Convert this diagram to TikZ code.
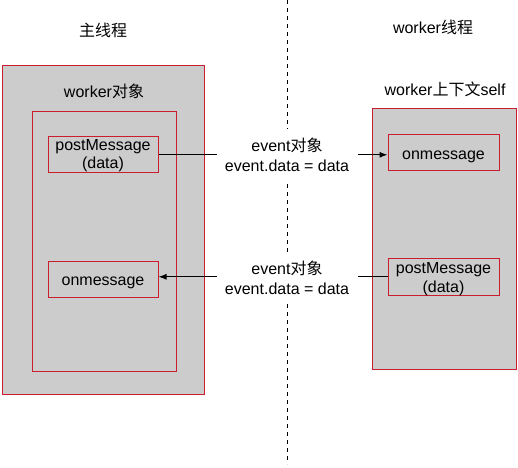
\documentclass[tikz,border=0pt]{standalone}
\usepackage{fontspec}
\setmainfont{Liberation Sans}
\newfontfamily\cjk{Noto Sans CJK SC}
\usetikzlibrary{arrows.meta}
\definecolor{boxred}{RGB}{200,30,45}
\definecolor{boxgray}{RGB}{204,204,204}
\begin{document}
\begin{tikzpicture}[x=1pt,y=-1pt,
  every node/.style={font=\fontsize{16}{20}\selectfont, inner sep=0pt},
  panel/.style={draw=boxred, fill=boxgray, line width=1pt},
  method/.style={draw=boxred, fill=boxgray, line width=1pt},
  mtext/.style={align=center, font=\fontsize{16}{18.5}\selectfont},
  caption/.style={fill=white, align=center, minimum width=141pt, minimum height=52pt},
  conn/.style={draw=black, line width=1pt, -{Latex[length=8pt,width=6pt]}},
  divider/.style={draw=black, line width=1pt, dash pattern=on 4pt off 4pt}]
\useasboundingbox (0,0) rectangle (518,467);
% divider
\coordinate (dtop) at (287,0);
\coordinate (dbot) at (287,464);
\draw[divider] (dtop) -- (dbot);
% titles
\node (tmain) at (103,30) {{\cjk 主线程}};
\node (twork) at (433,27) {worker{\cjk 线程}};
% left panels
\node[panel, minimum width=202pt, minimum height=329pt] (lout) at (103,229.5) {};
\node (lobj) at (104,91.2) {worker{\cjk 对象}};
\node[panel, minimum width=144pt, minimum height=260pt] (lin) at (104,241) {};
\node[method, minimum width=110pt, minimum height=36pt] (pmL) at (103,154.8) {};
\node[mtext] (pmLt) at (103,155.4) {postMessage\\(data)};
\node[method, minimum width=110pt, minimum height=36pt] (omL) at (103,279) {};
\node[anchor=base] (omLt) at (103,285) {onmessage};
% right panel
\node (rctx) at (445,89.5) {worker{\cjk 上下文}self};
\node[panel, minimum width=144pt, minimum height=261pt] (rout) at (444,238.5) {};
\node[method, minimum width=111pt, minimum height=36pt] (omR) at (443.5,152.5) {};
\node[anchor=base] (omRt) at (443.5,159) {onmessage};
\node[method, minimum width=111pt, minimum height=37pt] (pmR) at (443.5,276.8) {};
\node[mtext] (pmRt) at (443.5,279.3) {postMessage\\(data)};
% connectors
\draw[conn] (pmL.east) -- (pmL.east -| omR.west);
\draw[conn] (pmR.west) -- (pmR.west -| omL.east);
% captions
\node[caption] (cap1) at (287,154.5) {event{\cjk 对象}\\event.data = data};
\node[caption] (cap2) at (287,278) {event{\cjk 对象}\\event.data = data};
\end{tikzpicture}
\end{document}
